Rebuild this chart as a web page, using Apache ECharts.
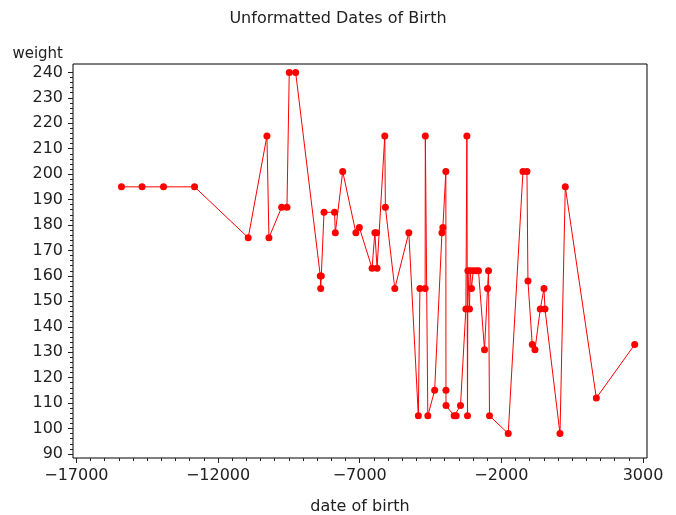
<!DOCTYPE html>
<html>
<head>
<meta charset="utf-8">
<script src="https://cdn.jsdelivr.net/npm/echarts@6/dist/echarts.min.js"></script>
<style>
  html, body { margin: 0; padding: 0; background: #fff; }
  #chart { width: 676px; height: 515px; }
</style>
</head>
<body>
<div id="chart"></div>
<script>
// date of birth (days, unformatted) and weight, in plotting order
var birthDates = [
  -15410, -14682, -13925, -12830, -10936, -10275, -10204, -9755, -9568, -9487,
  -9261, -8391, -8377, -8356, -8260, -7889, -7861, -7600, -7136, -7013,
  -6564, -6465, -6405, -6387, -6115, -6094, -5762, -5267, -4931, -4875,
  -4691, -4684, -4596, -4355, -4097, -4065, -3960, -3956, -3953, -3666,
  -3596, -3443, -3253, -3217, -3196, -3182, -3126, -3101, -3055, -2995,
  -2889, -2808, -2595, -2489, -2454, -2419, -1758, -1238, -1097, -1062,
  -910, -814, -627, -496, -461, 69, 256, 1352, 2706
];
var weights = [
  195, 195, 195, 195, 175, 215, 175, 187, 187, 240,
  240, 160, 155, 160, 185, 185, 177, 201, 177, 179,
  163, 177, 177, 163, 215, 187, 155, 177, 105, 155,
  155, 215, 105, 115, 177, 179, 201, 115, 109, 105,
  105, 109, 147, 215, 105, 162, 147, 162, 155, 162,
  162, 162, 131, 155, 162, 105, 98, 201, 201, 158,
  133, 131, 147, 155, 147, 98, 195, 112, 133
];

// axis ticks
var xTicks = [-17000, -12000, -7000, -2000, 3000];
var yTicks = [90, 100, 110, 120, 130, 140, 150, 160, 170, 180, 190, 200, 210, 220, 230, 240];
var xMinorStep = 500;
var yMinorStep = 2;

var X_MIN = -17120, X_MAX = 3140;
var Y_MIN = 88.4, Y_MAX = 243.3;

var xMinor = [];
for (var v = xTicks[0]; v <= xTicks[xTicks.length - 1]; v += xMinorStep) xMinor.push(v);
var yMinor = [];
for (var w = yTicks[0]; w <= yTicks[yTicks.length - 1]; w += yMinorStep) yMinor.push(w);

var points = birthDates.map(function (d, i) { return [d, weights[i]]; });

var FONT = 'DejaVu Sans';
var TEXT = '#222';

var chart = echarts.init(document.getElementById('chart'));
chart.setOption({
  animation: false,
  backgroundColor: '#fff',
  title: {
    text: 'Unformatted Dates of Birth',
    left: 'center',
    top: 6,
    textStyle: { fontFamily: FONT, fontSize: 16, fontWeight: 'normal', color: TEXT }
  },
  grid: {
    left: 73, right: 29, top: 64, bottom: 57,
    outerBoundsMode: 'none',
    show: true, borderColor: '#000', borderWidth: 1
  },
  xAxis: [
    {
      type: 'value', position: 'bottom', min: X_MIN, max: X_MAX,
      name: 'date of birth', nameLocation: 'middle', nameGap: 41,
      nameTextStyle: { fontFamily: FONT, fontSize: 16, color: TEXT },
      axisLine: { show: false, onZero: false },
      splitLine: { show: false },
      axisTick: { show: true, customValues: xTicks, length: 5, lineStyle: { color: '#222' } },
      axisLabel: {
        customValues: xTicks, margin: 10, fontFamily: FONT, fontSize: 16, color: TEXT,
        formatter: function (v) { return v < 0 ? '\u2212' + Math.abs(v) : String(v); }
      }
    },
    {
      type: 'value', position: 'bottom', min: X_MIN, max: X_MAX,
      axisLine: { show: false, onZero: false }, splitLine: { show: false }, axisLabel: { show: false },
      axisTick: { show: true, customValues: xMinor, length: 3, lineStyle: { color: '#222' } }
    }
  ],
  yAxis: [
    {
      type: 'value', position: 'left', min: Y_MIN, max: Y_MAX,
      name: 'weight', nameLocation: 'end', nameGap: 2,
      nameTextStyle: { fontFamily: FONT, fontSize: 15, color: TEXT, align: 'right', padding: [0, 10, 0, 0] },
      axisLine: { show: false, onZero: false },
      splitLine: { show: false },
      axisTick: { show: true, customValues: yTicks, length: 5, lineStyle: { color: '#222' } },
      axisLabel: { customValues: yTicks, margin: 10, fontFamily: FONT, fontSize: 16, color: TEXT }
    },
    {
      type: 'value', position: 'left', min: Y_MIN, max: Y_MAX,
      axisLine: { show: false, onZero: false }, splitLine: { show: false }, axisLabel: { show: false },
      axisTick: { show: true, customValues: yMinor, length: 3, lineStyle: { color: '#222' } }
    }
  ],
  series: [
    {
      type: 'line',
      data: points,
      xAxisIndex: 0,
      yAxisIndex: 0,
      symbol: 'circle',
      symbolSize: 7,
      itemStyle: { color: '#ff0000' },
      lineStyle: { color: '#ff0000', width: 1 }
    }
  ]
});
</script>
</body>
</html>
